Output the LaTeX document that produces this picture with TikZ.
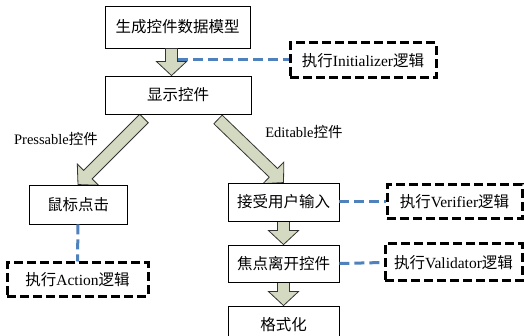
\documentclass[tikz,border=0pt]{standalone}
\usepackage{fontspec}
\setmainfont{Liberation Serif}
\newfontfamily\cjk{Noto Sans CJK SC}
\usetikzlibrary{calc}
\definecolor{arrowfill}{RGB}{212,218,194}
\definecolor{linkblue}{RGB}{79,129,189}
\newcommand\blockarrow[2]{%
  \coordinate (ba-c) at ($(#2)!14pt!(#1)$);
  \filldraw[barrow] ($(#1)!6pt!90:(#2)$) -- ($(ba-c)!6pt!90:(#2)$) -- ($(ba-c)!15pt!90:(#2)$) -- (#2)
    -- ($(ba-c)!15pt!-90:(#2)$) -- ($(ba-c)!6pt!-90:(#2)$) -- ($(#1)!6pt!-90:(#2)$) -- cycle;}
\begin{document}
\begin{tikzpicture}[x=1pt,y=-1pt,
  font=\fontsize{15.5}{18}\selectfont,
  box/.style={draw=black, line width=0.9pt, fill=white, inner sep=0pt},
  dbox/.style={draw=black, line width=3pt, dash pattern=on 9pt off 4pt, fill=white, inner sep=0pt},
  barrow/.style={draw=black!80, line width=0.8pt, fill=arrowfill, line join=miter},
  link/.style={draw=linkblue, line width=3pt, dash pattern=on 10pt off 5pt},
  lbl/.style={font=\fontsize{14.5}{17}\selectfont, inner sep=0pt}]
\useasboundingbox (0,0) rectangle (524,336);
\clip (0,0) rectangle (524,336);
\fill[white] (0,0) rectangle (524,336);
% node positions
\path
  (177.5,27) node[box, minimum width=145pt, minimum height=42pt] (b1) {\cjk 生成控件数据模型}
  (178,95) coordinate (b2c)
  (78,204.5) coordinate (mc)
  (283.5,202) coordinate (ac)
  (283.5,263.5) coordinate (fc)
  (283.5,325) coordinate (gc);
\node[box, minimum width=146pt, minimum height=38pt] (b2) at (b2c) {\cjk 显示控件};
\node[box, minimum width=98pt, minimum height=39pt] (mouse) at (mc) {\cjk 鼠标点击};
\node[box, minimum width=111pt, minimum height=38pt] (accept) at (ac) {\cjk 接受用户输入};
\node[box, minimum width=111pt, minimum height=37pt] (focus) at (fc) {\cjk 焦点离开控件};
\node[box, minimum width=111pt, minimum height=38pt] (fmt) at (gc) {\cjk 格式化};
% block arrows
\coordinate (t1) at ($(b1.south)+(-6,0)$);
\coordinate (h1) at ($(b2.north)+(-6.5,0)$);
\blockarrow{t1}{h1}
\coordinate (t2) at ($(b2.south)+(-34,4)$);
\blockarrow{t2}{mouse.north}
\coordinate (t3) at ($(b2.south)+(40,5)$);
\blockarrow{t3}{accept.north}
\blockarrow{accept.south}{focus.north}
\blockarrow{focus.south}{fmt.north}
% redraw boxes on top of arrow tails
\node[box, minimum width=146pt, minimum height=38pt] at (b2c) {\cjk 显示控件};
\node[box, minimum width=98pt, minimum height=39pt] at (mc) {\cjk 鼠标点击};
\node[box, minimum width=111pt, minimum height=38pt] at (ac) {\cjk 接受用户输入};
\node[box, minimum width=111pt, minimum height=37pt] at (fc) {\cjk 焦点离开控件};
\node[box, minimum width=111pt, minimum height=38pt] at (gc) {\cjk 格式化};
% dashed logic boxes
\node[dbox, minimum width=146pt, minimum height=35pt] (init) at (363,60.5) {{\cjk 执行}Initializer{\cjk 逻辑}};
\node[dbox, minimum width=141pt, minimum height=33pt] (action) at (77.5,279.5) {{\cjk 执行}Action{\cjk 逻辑}};
\node[dbox, minimum width=135pt, minimum height=34pt] (verif) at (454.5,202) {{\cjk 执行}Verifier{\cjk 逻辑}};
\node[dbox, minimum width=137pt, minimum height=37pt] (valid) at (453.5,262.5) {{\cjk 执行}Validator{\cjk 逻辑}};
% links
\coordinate (j1) at ($(t1)!0.4!(h1)+(6.5,0)$);
\draw[link] (j1) -- (j1 -| init.west);
\draw[link] (mouse.south) -- (action.north);
\draw[link] (accept.east) -- (verif.west);
\draw[link] (focus.east) -- (valid.west);
% labels
\node[lbl] (plbl) at (56,139) {Pressable{\cjk 控件}};
\node[lbl] (elbl) at (304,132) {Editable{\cjk 控件}};
\end{tikzpicture}
\end{document}
